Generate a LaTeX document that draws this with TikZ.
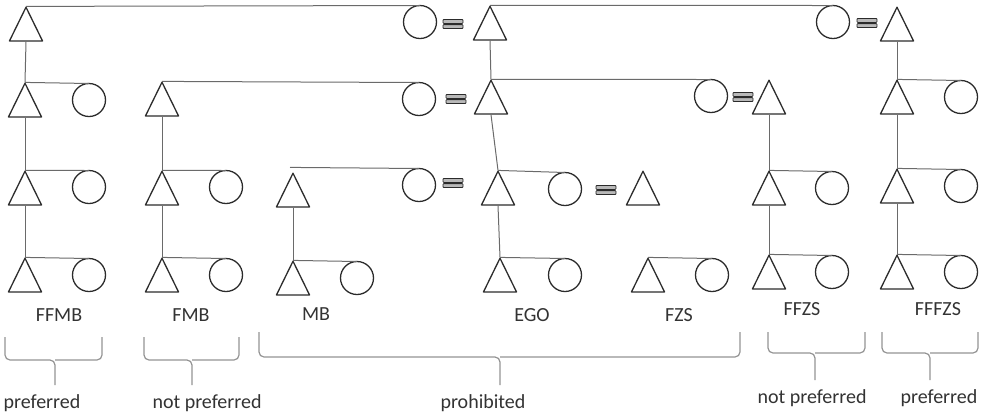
\documentclass[tikz,border=0pt]{standalone}
\usepackage{fontspec}
\setmainfont{Carlito}
\usepackage{tikz}
\usetikzlibrary{shapes.geometric}
\definecolor{kinshape}{HTML}{2B2B2B}
\definecolor{kinline}{HTML}{6A6A6A}
\definecolor{kintext}{HTML}{333333}

\begin{document}
\begin{tikzpicture}[
    x=0.5pt, y=-0.5pt,
    male/.style={rectangle, minimum width=17.2pt, minimum height=17.6pt, inner sep=0pt, outer sep=0pt,
        path picture={\draw[kinshape, line width=0.65pt, line join=round]
            ([shift={(0.35pt,0.35pt)}]path picture bounding box.south west) --
            ([yshift=-0.4pt]path picture bounding box.north) --
            ([shift={(-0.35pt,0.35pt)}]path picture bounding box.south east) -- cycle;}},
    female/.style={circle, draw=kinshape, line width=0.65pt, minimum size=16.5pt, inner sep=0pt, outer sep=0pt},
    tie/.style={draw=kinline, line width=0.5pt},
    eqbar/.style={draw=kinshape, fill=gray!55, line width=0.4pt, rounded corners=0.4pt},
    bracket/.style={draw=gray!85, line width=0.6pt, rounded corners=2.5pt},
    kinlabel/.style={font=\fontsize{10}{12}\selectfont, text=kintext, inner sep=0pt}
]
\useasboundingbox (0,0) rectangle (981,414);

% generation 1
\node[male]   (ffmb)  at (26,24)  {};
\node[female] (ffm)   at (420,22) {};
\node[male]   (fff)   at (490,23) {};
\node[female] (fffz)  at (833,22) {};
\node[male]   (fffzh) at (897,24) {};

% generation 2
\node[male]   (ffmbs) at (25,100)  {};
\node[female] (ffmbd) at (89,100)  {};
\node[male]   (fmb)   at (162,99)  {};
\node[female] (fm)    at (419,99)  {};
\node[male]   (ff)    at (491,97)  {};
\node[female] (ffz)   at (711,96)  {};
\node[male]   (ffzh)  at (769,97)  {};
\node[male]   (fffzs) at (897,97)  {};
\node[female] (fffzd) at (961,97)  {};

% generation 3
\node[male]   (ffmbss) at (25,188)  {};
\node[female] (ffmbsd) at (89,187)  {};
\node[male]   (fmbs)   at (162,188) {};
\node[female] (fmbd)   at (226,187) {};
\node[male]   (mb)     at (293,190) {};
\node[female] (m)      at (419,185) {};
\node[male]   (f)      at (498,188) {};
\node[female] (fz)     at (565,189) {};
\node[male]   (fzh)    at (643,188) {};
\node[male]   (ffzs)   at (769,188) {};
\node[female] (ffzd)   at (832,188) {};
\node[male]   (fffzss) at (897,186) {};
\node[female] (fffzsd) at (961,186) {};

% generation 4
\node[male]   (ffmbsss)  at (25,275)  {};
\node[female] (ffmbssd)  at (89,275)  {};
\node[male]   (fmbss)    at (162,275) {};
\node[female] (fmbsd)    at (226,275) {};
\node[male]   (mbs)      at (293,278) {};
\node[female] (mbd)      at (357,278) {};
\node[male]   (ego)      at (500,275) {};
\node[female] (egoz)     at (565,275) {};
\node[male]   (fzs)      at (648,275) {};
\node[female] (fzd)      at (712,275) {};
\node[male]   (ffzss)    at (769,272) {};
\node[female] (ffzsd)    at (832,272) {};
\node[male]   (fffzsss)  at (897,272) {};
\node[female] (fffzssd)  at (961,272) {};

% sibling lines
\foreach \a/\b in {ffmb/ffm, fff/fffz, ffmbs/ffmbd, fmb/fm, ff/ffz, fffzs/fffzd,
    ffmbss/ffmbsd, fmbs/fmbd, f/fz, ffzs/ffzd, fffzss/fffzsd,
    ffmbsss/ffmbssd, fmbss/fmbsd, mbs/mbd, ego/egoz, fzs/fzd, ffzss/ffzsd, fffzsss/fffzssd}
    \draw[tie] (\a.north) -- (\b.north);
\draw[tie] ([xshift=-1.5pt,yshift=2.5pt]mb.north) -- (m.north);

% descent lines
\foreach \a/\b in {ffmb/ffmbs, ffmbs/ffmbss, ffmbss/ffmbsss, fmb/fmbs, fmbs/fmbss, mb/mbs,
    fff/ff, ff/f, f/ego, ffzh/ffzs, ffzs/ffzss, fffzh/fffzs, fffzs/fffzss, fffzss/fffzsss}
    \draw[tie] (\a.south) -- (\b.north);

% marriage signs
\foreach \ex/\ey in {453/24, 456/99, 453/183, 606/190, 743/97, 867/23} {
    \draw[eqbar] (\ex-10,\ey-4.5) rectangle (\ex+10,\ey-0.6);
    \draw[eqbar] (\ex-10,\ey+0.6) rectangle (\ex+10,\ey+4.5);
}

% names
\node[kinlabel] (lffmb)  at (59,315)  {FFMB};
\node[kinlabel] (lfmb)   at (191,315) {FMB};
\node[kinlabel] (lmb)    at (316,314) {MB};
\node[kinlabel] (lego)   at (532,315) {EGO};
\node[kinlabel] (lfzs)   at (679,315) {FZS};
\node[kinlabel] (lffzs)  at (802,309) {FFZS};
\node[kinlabel] (lfffzs) at (938,309) {FFFZS};

% brackets
\foreach \xa/\xm/\xb/\ya/\yb/\yc in {5/55/102/337/360/385, 144/192/239/337/360/385,
    259/500/740/332/357/385, 768/815/865/332/353/380, 882/930/978/332/353/380} {
    \draw[bracket] (\xa,\ya) |- (\xm,\yb) -- (\xm,\yc);
    \draw[bracket] (\xb,\ya) |- (\xm,\yb);
}

% verdicts
\node[kinlabel] (vpref)    at (42,403)  {preferred};
\node[kinlabel] (vnotpref) at (207,403) {not preferred};
\node[kinlabel] (vprohib)  at (483,403) {prohibited};
\node[kinlabel] (vnotpr)   at (812,398) {not preferred};
\node[kinlabel] (vprefb)   at (939,398) {preferred};
\end{tikzpicture}
\end{document}
